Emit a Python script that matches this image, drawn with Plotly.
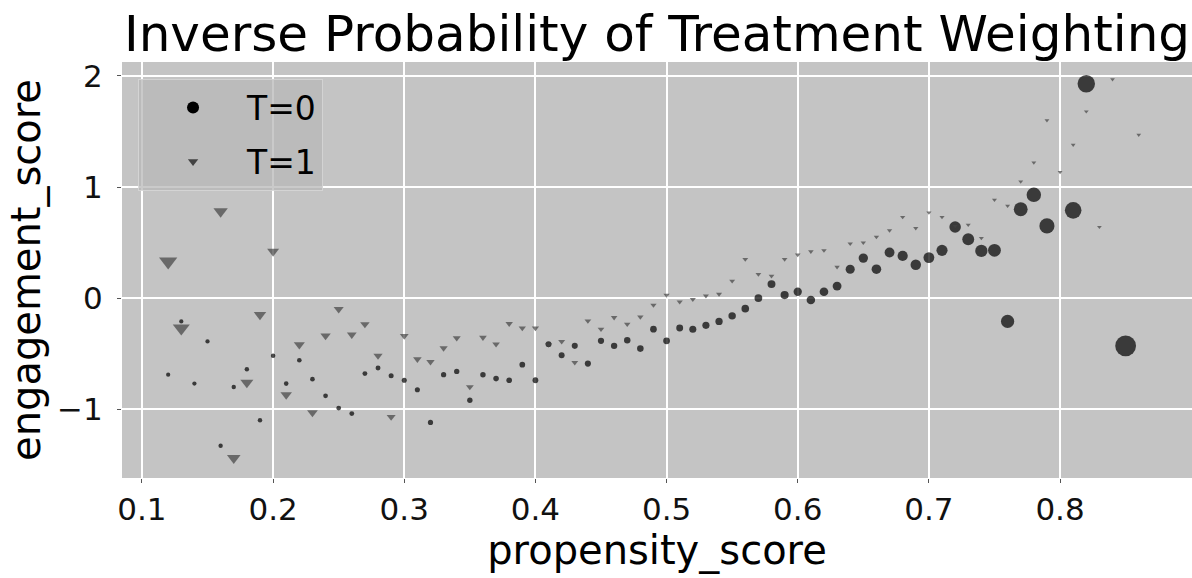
import numpy as np
import plotly.graph_objects as go

# propensity score / engagement score, per group
ps_t0 = [0.12, 0.13, 0.14, 0.15, 0.16, 0.17, 0.18, 0.19, 0.20, 0.21,
         0.22, 0.23, 0.24, 0.25, 0.26, 0.27, 0.28, 0.29, 0.30, 0.31,
         0.32, 0.33, 0.34, 0.35, 0.36, 0.37, 0.38, 0.39, 0.40, 0.41,
         0.42, 0.43, 0.44, 0.45, 0.46, 0.47, 0.48, 0.49, 0.50, 0.51,
         0.52, 0.53, 0.54, 0.55, 0.56, 0.57, 0.58, 0.59, 0.60, 0.61,
         0.62, 0.63, 0.64, 0.65, 0.66, 0.67, 0.68, 0.69, 0.70, 0.71,
         0.72, 0.73, 0.74, 0.75, 0.76, 0.77, 0.78, 0.79, 0.81, 0.82,
         0.85]
score_t0 = [-0.69, -0.21, -0.77, -0.39, -1.33, -0.80, -0.64, -1.10, -0.52, -0.77,
            -0.56, -0.73, -0.88, -0.99, -1.04, -0.68, -0.63, -0.70, -0.74, -0.825,
            -1.12, -0.69, -0.66, -0.92, -0.69, -0.725, -0.74, -0.60, -0.74, -0.415,
            -0.515, -0.43, -0.59, -0.385, -0.43, -0.38, -0.455, -0.28, -0.385, -0.27,
            -0.28, -0.245, -0.21, -0.16, -0.095, 0.00, 0.126, 0.027, 0.057, -0.018,
            0.057, 0.108, 0.26, 0.36, 0.26, 0.41, 0.38, 0.30, 0.365, 0.43,
            0.64, 0.53, 0.425, 0.43, -0.21, 0.80, 0.93, 0.65, 0.79, 1.93,
            -0.43]

ps_t1 = [0.12, 0.13, 0.16, 0.17, 0.18, 0.19, 0.20, 0.21, 0.22, 0.23,
         0.24, 0.25, 0.26, 0.27, 0.28, 0.29, 0.30, 0.31, 0.32, 0.33,
         0.34, 0.35, 0.36, 0.37, 0.38, 0.39, 0.40, 0.41, 0.42, 0.43,
         0.44, 0.45, 0.46, 0.47, 0.48, 0.49, 0.50, 0.51, 0.52, 0.53,
         0.54, 0.55, 0.56, 0.57, 0.58, 0.59, 0.60, 0.61, 0.62, 0.63,
         0.64, 0.65, 0.66, 0.67, 0.68, 0.69, 0.70, 0.71, 0.72, 0.73,
         0.74, 0.75, 0.76, 0.77, 0.78, 0.79, 0.80, 0.81, 0.82, 0.83,
         0.84, 0.86]
score_t1 = [0.33, -0.27, 0.78, -1.44, -0.76, -0.15, 0.42, -0.87, -0.42, -1.03,
            -0.34, -0.10, -0.33, -0.235, -0.52, -1.07, -0.34, -0.55, -0.575, -0.45,
            -0.36, -0.80, -0.355, -0.415, -0.23, -0.27, -0.27, -0.42, -0.39, -0.58,
            -0.205, -0.28, -0.175, -0.235, -0.17, -0.063, 0.027, -0.033, -0.012, 0.021,
            0.036, 0.154, 0.35, 0.214, 0.20, 0.35, 0.39, 0.42, 0.43, 0.28,
            0.49, 0.50, 0.55, 0.61, 0.73, 0.63, 0.77, 0.73, 0.65, 0.66,
            0.54, 0.885, 0.83, 1.05, 1.22, 1.60, 1.135, 1.38, 1.68, 0.64,
            1.97, 1.47]

x_ticks = [0.1, 0.2, 0.3, 0.4, 0.5, 0.6, 0.7, 0.8]
y_ticks = [-1, 0, 1, 2]

# inverse probability weights drive the marker size
w0 = 1 / (1 - np.array(ps_t0))
w1 = 1 / np.array(ps_t1)
size0 = 3.0 * w0 + 0.8
size1 = (1.9 * w1 + 2.5) / 1.155

FONT = "DejaVu Sans"
BG = "#c4c4c4"
GRAY = "#434343"

fig = go.Figure()
fig.add_trace(go.Scatter(
    x=ps_t0, y=score_t0, mode="markers", showlegend=False,
    marker=dict(symbol="circle", color="black", size=size0, line=dict(width=0)),
))
fig.add_trace(go.Scatter(
    x=ps_t1, y=score_t1, mode="markers", showlegend=False,
    marker=dict(symbol="triangle-down", color=GRAY, size=size1, line=dict(width=0)),
))
# legend entries with fixed marker sizes
fig.add_trace(go.Scatter(
    x=[None], y=[None], mode="markers", name="T=0", legendgroup="a",
    marker=dict(symbol="circle", color="black", size=12),
))
fig.add_trace(go.Scatter(
    x=[None], y=[None], mode="markers", name="T=1", legendgroup="b",
    marker=dict(symbol="triangle-down", color=GRAY, size=9),
))

fig.update_layout(
    width=1192, height=578,
    margin=dict(l=122, r=0, t=62, b=100, autoexpand=False),
    paper_bgcolor="white", plot_bgcolor=BG,
    font=dict(family=FONT, color="#111111"),
    title=dict(text="Inverse Probability of Treatment Weighting",
               x=0.5, xref="paper", xanchor="center",
               y=0.972, yref="container", yanchor="top",
               font=dict(size=50, family=FONT, color="black")),
    legend=dict(x=0.015, y=0.96, xanchor="left", yanchor="top",
                bgcolor="rgba(184,184,184,0.75)",
                bordercolor="rgba(214,214,214,0.9)", borderwidth=1,
                font=dict(size=33, family=FONT, color="black"),
                itemwidth=98, tracegroupgap=8),
    showlegend=True,
)
fig.update_xaxes(
    range=[0.0848, 0.9006], tickvals=x_ticks, ticktext=[f"{v:.1f}" for v in x_ticks],
    showgrid=True, gridcolor="white", gridwidth=1.5, zeroline=False,
    ticks="outside", ticklen=4, tickcolor="#555555", tickwidth=1,
    tickfont=dict(size=31, family=FONT, color="#111111"),
    title=dict(text="propensity_score", font=dict(size=40, family=FONT, color="black"),
               standoff=4),
    showline=False, automargin=False,
)
fig.update_yaxes(
    range=[-1.62, 2.126], tickvals=y_ticks, ticktext=["\u22121", "0", "1", "2"],
    showgrid=True, gridcolor="white", gridwidth=1.5, zeroline=False,
    ticks="outside", ticklen=4, tickcolor="#555555", tickwidth=1,
    tickfont=dict(size=31, family=FONT, color="#111111"), ticklabelstandoff=8,
    title=dict(text="engagement_score", font=dict(size=40, family=FONT, color="black"),
               standoff=4),
    showline=False, automargin=False,
)

# drop the default page margin so the figure sits at the window's corner
fig.write_html("out.html", config={"displayModeBar": False},
               post_script="document.body.style.margin = '0';")
